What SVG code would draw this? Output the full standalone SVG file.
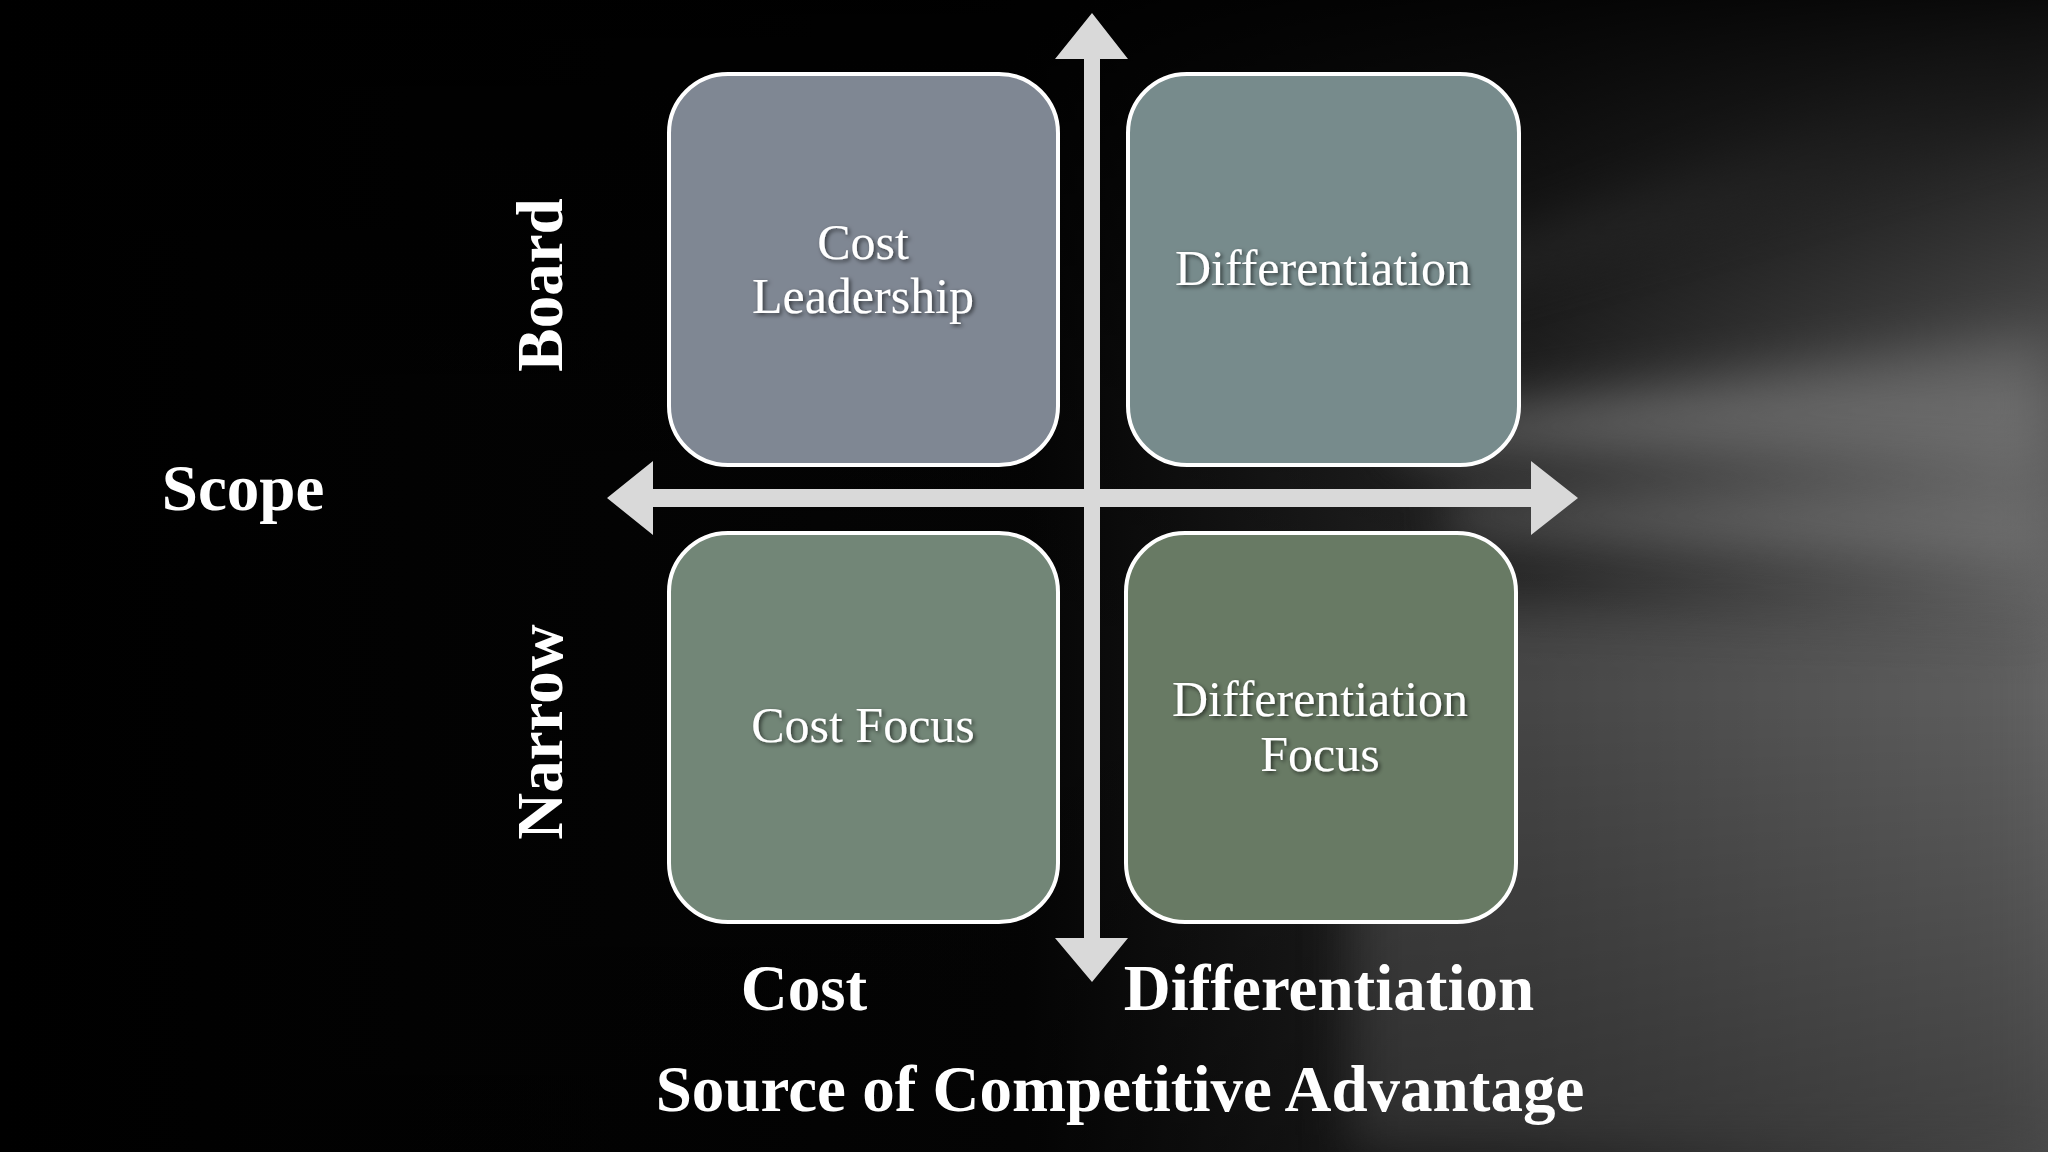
<svg xmlns="http://www.w3.org/2000/svg" width="2048" height="1152" viewBox="0 0 2048 1152">
<defs>
<linearGradient id="bg" x1="0" y1="0" x2="1" y2="0">
<stop offset="0" stop-color="#000"/><stop offset="0.5" stop-color="#050505"/><stop offset="0.75" stop-color="#2a2a2a"/><stop offset="1" stop-color="#6a6a6a"/>
</linearGradient>
<linearGradient id="fadeb" x1="0" y1="0" x2="0" y2="1">
<stop offset="0" stop-color="#000" stop-opacity="0.9"/><stop offset="0.35" stop-color="#000" stop-opacity="0.2"/><stop offset="0.6" stop-color="#000" stop-opacity="0"/><stop offset="1" stop-color="#000" stop-opacity="0.3"/>
</linearGradient>
<filter id="blur" x="-50%" y="-50%" width="200%" height="200%"><feGaussianBlur stdDeviation="25"/></filter>
<filter id="sh"><feDropShadow dx="2" dy="2" stdDeviation="2" flood-color="#000" flood-opacity="0.6"/></filter>
<style>
.box{stroke:#fff;stroke-width:4}
.lbl{font-family:"Liberation Serif",serif;font-size:50px;fill:#fff;text-anchor:middle;filter:url(#sh)}
.ax{font-family:"Liberation Serif",serif;font-size:65px;font-weight:bold;fill:#fff;text-anchor:middle}
.arr{fill:#d9d9d9}
</style>
</defs>
<rect width="2048" height="1152" fill="url(#bg)"/>
<g filter="url(#blur)" opacity="0.6">
<polygon points="1400,420 2048,330 2048,470 1400,450" fill="#9a9a9a"/>
<polygon points="1400,280 2048,40 2048,120 1400,310" fill="#555"/>
<polygon points="1350,600 2048,620 2048,1152 1350,1152" fill="#5a5a5a"/>
<polygon points="1450,500 2048,480 2048,560 1450,530" fill="#888"/>
</g>
<rect width="2048" height="1152" fill="url(#fadeb)"/>
<g id="connectors">
<polygon class="arr" points="1092,13 1128,59 1100,59 1100,938 1128,938 1092,982 1055,938 1084,938 1084,59 1055,59"/>
<polygon class="arr" points="607,498 653,461 653,489 1531,489 1531,461 1578,498 1531,535 1531,507 653,507 653,535"/>
</g>
<g id="n1"><rect class="box" x="669" y="74" width="389" height="391" rx="59" fill="#7f8793"/>
<text class="lbl" x="863" y="259">Cost</text><text class="lbl" x="863" y="313">Leadership</text></g>
<g id="n2"><rect class="box" x="1128" y="74" width="391" height="391" rx="59" fill="#778b8c"/>
<text class="lbl" x="1323" y="285">Differentiation</text></g>
<g id="n3"><rect class="box" x="669" y="533" width="389" height="389" rx="59" fill="#728677"/>
<text class="lbl" x="863" y="742">Cost Focus</text></g>
<g id="n4"><rect class="box" x="1126" y="533" width="390" height="389" rx="59" fill="#687a64"/>
<text class="lbl" x="1320" y="716">Differentiation</text><text class="lbl" x="1320" y="771">Focus</text></g>
<g id="labels">
<text class="ax" x="243" y="510">Scope</text>
<text class="ax" transform="translate(562,285) rotate(-90)">Board</text>
<text class="ax" transform="translate(562,732) rotate(-90)">Narrow</text>
<text class="ax" x="804" y="1010">Cost</text>
<text class="ax" x="1329" y="1010">Differentiation</text>
<text class="ax" x="1120" y="1111">Source of Competitive Advantage</text>
</g>
</svg>
